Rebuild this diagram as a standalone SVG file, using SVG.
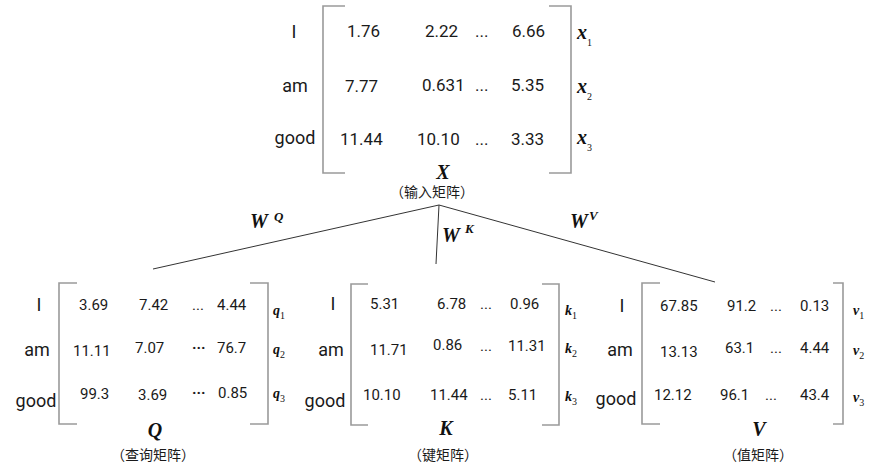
<svg xmlns="http://www.w3.org/2000/svg" width="891" height="474" viewBox="0 0 891 474">
<style>
.br{fill:none;stroke:#9a9a9a;stroke-width:1.6}
.cn{fill:none;stroke:#333;stroke-width:1}
.lb{font-family:Roboto,"Noto Sans",sans-serif;font-size:18px;fill:#1a1a1a;text-anchor:middle}
.v{font-family:Roboto,"Noto Sans",sans-serif;font-size:15px;fill:#1a1a1a}
.vt{font-family:Roboto,"Noto Sans",sans-serif;font-size:17px;fill:#1a1a1a}
.m{font-family:"Liberation Serif",serif;font-weight:bold;font-style:italic;fill:#111}
.sub{font-family:"Liberation Serif",serif;font-weight:normal;font-style:normal;font-size:10px}
.cjk{font-family:Roboto,"Noto Sans CJK SC",sans-serif;font-size:14px;fill:#1a1a1a;text-anchor:middle}
</style>
<g id="connectors">
<path class="cn" d="M439,205 L153,269"/>
<path class="cn" d="M439,205 L436,264"/>
<path class="cn" d="M439,205 L715,282"/>
<text class="m" x="250" y="228" font-size="20">W</text><text class="m" x="274" y="221" font-size="13">Q</text>
<text class="m" x="442" y="242" font-size="20">W</text><text class="m" x="465" y="233" font-size="13">K</text>
<text class="m" x="570" y="228" font-size="20">W</text><text class="m" x="589" y="220" font-size="13">V</text>
</g>
<g id="X">
<path class="br" d="M345,6 H323 V173 H345"/>
<path class="br" d="M549,6 H571 V173 H549"/>
<text class="lb" x="294" y="38">I</text>
<text class="lb" x="295" y="92">am</text>
<text class="lb" x="295" y="144">good</text>
<text class="vt" x="347" y="37">1.76</text><text class="vt" x="425" y="37">2.22</text><text class="vt" x="475" y="37">...</text><text class="vt" x="512" y="37">6.66</text>
<text class="vt" x="345" y="92">7.77</text><text class="vt" x="422" y="91">0.631</text><text class="vt" x="475" y="91">...</text><text class="vt" x="511" y="91">5.35</text>
<text class="vt" x="340" y="145">11.44</text><text class="vt" x="417" y="145">10.10</text><text class="vt" x="475" y="145">...</text><text class="vt" x="511" y="145">3.33</text>
<text class="m" x="577" y="39" font-size="20">x<tspan class="sub" dy="7">1</tspan></text>
<text class="m" x="577" y="93" font-size="20">x<tspan class="sub" dy="7">2</tspan></text>
<text class="m" x="577" y="144" font-size="20">x<tspan class="sub" dy="7">3</tspan></text>
<text class="m" x="443" y="179" font-size="20" text-anchor="middle">X</text>
<text class="cjk" x="432" y="197">（输入矩阵）</text>
</g>
<g id="Q">
<path class="br" d="M77,283 H59 V424 H77"/>
<path class="br" d="M250,283 H268 V424 H250"/>
<text class="lb" x="39" y="311">I</text>
<text class="lb" x="37" y="356">am</text>
<text class="lb" x="36" y="407">good</text>
<text class="v" x="79" y="310" font-size="14">3.69</text><text class="v" x="139" y="310" font-size="17">7.42</text><text class="v" x="192" y="310">...</text><text class="v" x="217" y="310" font-size="16">4.44</text>
<text class="v" x="73" y="356" font-size="16">11.11</text><text class="v" x="135" y="353" font-size="16">7.07</text><text class="v" x="192" y="353" font-weight="bold">···</text><text class="v" x="217" y="353" font-size="16">76.7</text>
<text class="v" x="80" y="399" font-size="16">99.3</text><text class="v" x="138" y="400" font-size="14">3.69</text><text class="v" x="192" y="398" font-weight="bold">···</text><text class="v" x="218" y="398" font-size="14">0.85</text>
<text class="m" x="273" y="315" font-size="14">q<tspan class="sub" dy="4" font-size="9">1</tspan></text>
<text class="m" x="273" y="354" font-size="14">q<tspan class="sub" dy="4" font-size="9">2</tspan></text>
<text class="m" x="273" y="398" font-size="14">q<tspan class="sub" dy="4" font-size="9">3</tspan></text>
<text class="m" x="155" y="437" font-size="20" text-anchor="middle">Q</text>
<text class="cjk" x="153" y="460" font-size="15">（查询矩阵）</text>
</g>
<g id="K">
<path class="br" d="M368,284 H351 V425 H368"/>
<path class="br" d="M542,284 H559 V425 H542"/>
<text class="lb" x="333" y="310">I</text>
<text class="lb" x="331" y="356">am</text>
<text class="lb" x="325" y="407">good</text>
<text class="v" x="370" y="309" font-size="14">5.31</text><text class="v" x="437" y="309">6.78</text><text class="v" x="480" y="309">...</text><text class="v" x="510" y="309">0.96</text>
<text class="v" x="370" y="355" font-size="14">11.71</text><text class="v" x="433" y="350">0.86</text><text class="v" x="480" y="351">...</text><text class="v" x="508" y="351">11.31</text>
<text class="v" x="363" y="400">10.10</text><text class="v" x="430" y="400" font-size="14">11.44</text><text class="v" x="480" y="400">...</text><text class="v" x="508" y="400">5.11</text>
<text class="m" x="565" y="315" font-size="14">k<tspan class="sub" dy="4" font-size="9">1</tspan></text>
<text class="m" x="565" y="353" font-size="14">k<tspan class="sub" dy="4" font-size="9">2</tspan></text>
<text class="m" x="565" y="401" font-size="14">k<tspan class="sub" dy="4" font-size="9">3</tspan></text>
<text class="m" x="446" y="435" font-size="20" text-anchor="middle">K</text>
<text class="cjk" x="443" y="460" font-size="15">（键矩阵）</text>
</g>
<g id="V">
<path class="br" d="M660,283 H642 V424 H660"/>
<path class="br" d="M833,283 H843 V424 H833"/>
<text class="lb" x="622" y="312">I</text>
<text class="lb" x="620" y="356">am</text>
<text class="lb" x="616" y="405">good</text>
<text class="v" x="660" y="311">67.85</text><text class="v" x="727" y="311" font-size="16">91.2</text><text class="v" x="770" y="311">...</text><text class="v" x="800" y="311">0.13</text>
<text class="v" x="660" y="357">13.13</text><text class="v" x="725" y="353">63.1</text><text class="v" x="770" y="353">...</text><text class="v" x="800" y="353">4.44</text>
<text class="v" x="654" y="400">12.12</text><text class="v" x="720" y="400">96.1</text><text class="v" x="765" y="400">...</text><text class="v" x="800" y="400">43.4</text>
<text class="m" x="853" y="315" font-size="14">v<tspan class="sub" dy="4" font-size="9">1</tspan></text>
<text class="m" x="853" y="355" font-size="14">v<tspan class="sub" dy="4" font-size="9">2</tspan></text>
<text class="m" x="853" y="402" font-size="14">v<tspan class="sub" dy="4" font-size="9">3</tspan></text>
<text class="m" x="759" y="436" font-size="20" text-anchor="middle">V</text>
<text class="cjk" x="758" y="460" font-size="15">（值矩阵）</text>
</g>
</svg>
